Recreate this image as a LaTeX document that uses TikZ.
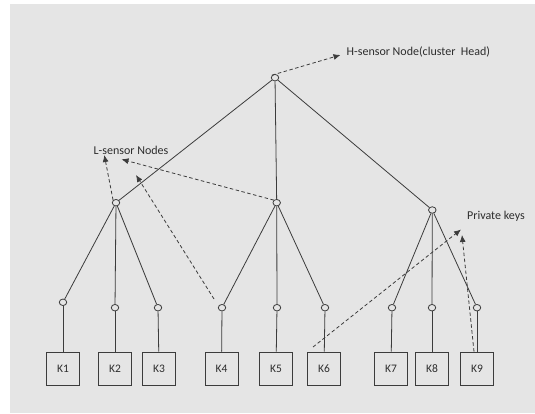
\documentclass[tikz,border=0pt]{standalone}
\usepackage{fontspec}
\setmainfont{Carlito}
\usepackage{xcolor}
\usetikzlibrary{shapes.geometric,arrows.meta,positioning}

\definecolor{bggray}{RGB}{229,229,229}
\definecolor{linegray}{RGB}{60,60,60}
\definecolor{textgray}{RGB}{45,45,45}

\begin{document}
\begin{tikzpicture}[x=1pt, y=-1pt,
    sensor/.style={ellipse, draw=linegray, fill=bggray, minimum width=7.5pt, minimum height=6.5pt, inner sep=0pt, line width=0.8pt},
    keybox/.style={rectangle, draw=linegray, minimum width=33pt, minimum height=33pt, inner sep=0pt, line width=0.8pt, text=textgray, font=\fontsize{11.5}{13}\selectfont},
    link/.style={draw=linegray, line width=0.8pt},
    pointer/.style={draw=linegray, line width=0.8pt, dash pattern=on 3.5pt off 2.5pt, -{Latex[length=7pt,width=6pt]}},
    caption/.style={anchor=west, inner sep=0pt, text=textgray, font=\fontsize{12}{14}\selectfont}
]

% Page and background
\useasboundingbox (0,0) rectangle (535,414);
\fill[white] (0,0) rectangle (535,414);
\fill[bggray] (10,4) rectangle (535,413);

% H-sensor (cluster head)
\node[sensor] (head) at (275,77.7) {};

% L-sensor nodes
\node[sensor] (lsA) at (116,202.7) {};
\node[sensor] (lsB) at (276.7,202.7) {};
\node[sensor] (lsC) at (432.3,210) {};

% Leaf sensors
\node[sensor] (dot1) at (63,302.3) {};
\node[sensor] (dot2) at (115,307.7) {};
\node[sensor] (dot3) at (158,307.7) {};
\node[sensor] (dot4) at (222,307.7) {};
\node[sensor] (dot5) at (277,307.7) {};
\node[sensor] (dot6) at (325,307.7) {};
\node[sensor] (dot7) at (392,307.7) {};
\node[sensor] (dot8) at (432,307.7) {};
\node[sensor] (dot9) at (477,307.7) {};

% Private keys
\node[keybox] (k1) at (63,368.5) {K1};
\node[keybox] (k2) at (115,368.5) {K2};
\node[keybox] (k3) at (159,368.5) {K3};
\node[keybox] (k4) at (221.5,368.5) {K4};
\node[keybox] (k5) at (276,368.5) {K5};
\node[keybox] (k6) at (324,368.5) {K6};
\node[keybox] (k7) at (391,368.5) {K7};
\node[keybox] (k8) at (432,368.5) {K8};
\node[keybox] (k9) at (477,368.5) {K9};

% Labels
\node[caption] (hlabel) at (346.5,51.7) {H-sensor Node(cluster\ \ Head)};
\node[caption] (lslabel) at (93.5,150) {L-sensor Nodes};
\node[caption] (pklabel) at (467,216.7) {Private keys};

% Tree links
\draw[link] (head) -- (lsA);
\draw[link] (head) -- (lsB);
\draw[link] (head) -- (lsC);
\draw[link] (lsA) -- (dot1);
\draw[link] (lsA) -- (dot2);
\draw[link] (lsA) -- (dot3);
\draw[link] (lsB) -- (dot4);
\draw[link] (lsB) -- (dot5);
\draw[link] (lsB) -- (dot6);
\draw[link] (lsC) -- (dot7);
\draw[link] (lsC) -- (dot8);
\draw[link] (lsC) -- (dot9);
\draw[link] (dot1) -- (k1);
\draw[link] (dot2) -- (k2);
\draw[link] (dot3) -- (k3);
\draw[link] (dot4) -- (k4);
\draw[link] (dot5) -- (k5);
\draw[link] (dot6) -- (k6);
\draw[link] (dot7) -- (k7);
\draw[link] (dot8) -- (k8);
\draw[link] (dot9) -- (k9);

% Dashed pointers to the labels
\coordinate (tipH) at (340.5,55);
\coordinate (tipA) at (104.3,155);
\coordinate (tipB) at (121.5,159.3);
\coordinate (tipC) at (136,175);
\coordinate (tipD) at (461,229.5);
\coordinate (tipE) at (462,235);
\coordinate (fromK4) at (214,299);
\coordinate (fromK6) at (313,347);

\draw[pointer] (head.north west) -- (tipH);
\draw[pointer] (lsA.north west) -- (tipA);
\draw[pointer] (lsB.north west) -- (tipB);
\draw[pointer] (fromK4) -- (tipC);
\draw[pointer] (fromK6) -- (tipD);
\draw[pointer] ([xshift=-3pt]k9.north) -- (tipE);

\end{tikzpicture}
\end{document}
